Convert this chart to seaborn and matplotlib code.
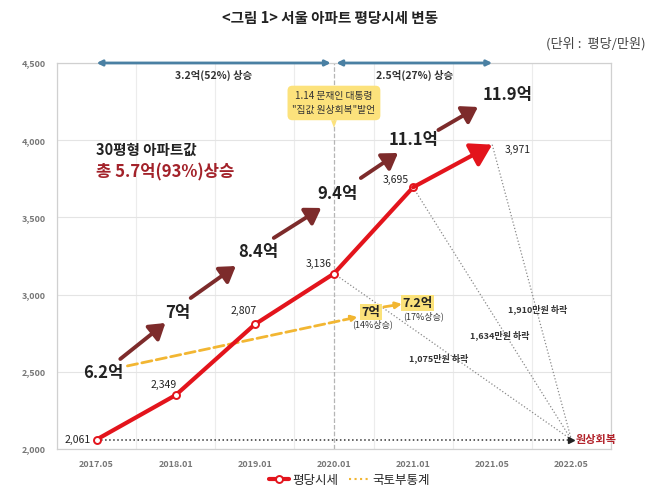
import numpy as np
import pandas as pd
import seaborn as sns
import matplotlib.pyplot as plt
from matplotlib.lines import Line2D
from matplotlib.ticker import FuncFormatter

# 서울 아파트 평당시세 (만원)
periods = ['2017.05', '2018.01', '2019.01', '2020.01', '2021.01', '2021.05', '2022.05']
price = [2061, 2349, 2807, 3136, 3695, 3971]
price_labels = ['2,061', '2,349', '2,807', '3,136', '3,695', '3,971']
label_offsets = [(-4, 0), (-9, 7), (-8, 10), (-11, 7), (-3, 5), (9, -4)]
label_ha = ['right', 'center', 'center', 'center', 'right', 'left']

# 30평형 아파트값 (억) and where the annotations sit
apt_labels = ['6.2억', '7억', '8.4억', '9.4억', '11.1억', '11.9억']
apt_label_x = [0.08, 1.03, 2.05, 3.05, 4.01, 5.2]
apt_label_y = [2492, 2881, 3276, 3652, 4001, 4293]
arrow_start_x = [0.30, 1.19, 2.24, 3.34, 4.32]
arrow_start_y = [2583, 2978, 3367, 3755, 4066]
arrow_end_x = [0.87, 1.76, 2.84, 3.81, 4.82]
arrow_end_y = [2816, 3185, 3561, 3917, 4215]

# 국토부통계 line
molit_x = [0.39, 3.30]
molit_y = [2538, 2855]

# drop to 원상회복 from these periods
drop_idx = [3, 4, 5]
drop_labels = ['1,075만원 하락', '1,634만원 하락', '1,910만원 하락']
drop_label_x = [4.32, 5.09, 5.58]
drop_label_y = [2589, 2738, 2907]

red = '#e3141c'
maroon = '#7d2b2b'
gold = '#f2b632'
blue = '#4a80a3'

sns.set_theme(style='white')
plt.rcParams['font.family'] = ['Noto Sans CJK KR', 'DejaVu Sans']

fig = plt.figure(figsize=(6.59, 4.92), dpi=100)
ax = fig.add_axes([0.0865, 0.0874, 0.8405, 0.7846])

# 평당시세 line
df = pd.DataFrame({'pos': range(len(price)), 'price': price})
sns.lineplot(data=df.iloc[:5], x='pos', y='price', color=red, lw=3, marker='o', ms=5,
             mfc='white', mec=red, mew=1.4, ax=ax, zorder=5)
ax.annotate('', xy=(5, price[5]), xytext=(4, price[4]),
            arrowprops=dict(arrowstyle='-|>,head_length=0.9,head_width=0.55', color=red,
                            lw=3, mutation_scale=14, shrinkA=0, shrinkB=0), zorder=5)
for i, t in enumerate(price_labels):
    ax.annotate(t, (i, price[i]), xytext=label_offsets[i], textcoords='offset points',
                ha=label_ha[i], va='center', fontsize=7.5, color='#222222')

ax.set_xlim(-0.5, 6.5)
ax.set_ylim(2000, 4500)
ax.set_yticks(np.arange(2000, 4501, 500))
ax.yaxis.set_major_formatter(FuncFormatter(lambda v, p: f'{v:,.0f}'))
ax.set_xticks(range(len(periods)))
ax.set_xticklabels(periods)
ax.set_xticks(np.arange(-0.5, 6.6, 0.5), minor=True)
ax.tick_params(axis='both', which='both', labelsize=6.5, colors='#777777', length=0, pad=8)
for lab in ax.get_xticklabels() + ax.get_yticklabels():
    lab.set_fontweight('bold')
ax.grid(axis='y', color='#e4e4e4', lw=0.8)
ax.grid(axis='x', which='minor', color='#ececec', lw=0.8)
ax.grid(axis='x', which='major', visible=False)
for s in ax.spines.values():
    s.set_color('#d0d0d0')
    s.set_linewidth(0.9)
ax.set_xlabel('')
ax.set_ylabel('')

# 2020.01 divider
ax.axvline(3, color='#b5b5b5', ls='--', lw=0.9, zorder=1)

# dotted lines back to 원상회복
ax.plot([0, 6], [price[0], price[0]], ls=':', color='#333333', lw=1.1, zorder=2)
ax.plot([6], [price[0]], marker='>', color='#222222', ms=4, zorder=3)
for i in drop_idx:
    ax.plot([i, 6], [price[i], price[0]], ls=':', color='#8a8a8a', lw=0.9, zorder=2)
for t, x, y in zip(drop_labels, drop_label_x, drop_label_y):
    ax.text(x, y, t, fontsize=6.5, fontweight='bold', color='#333333', ha='center', va='center')
ax.text(6.05, price[0], '원상회복', fontsize=8, fontweight='bold', color='#b2222a', ha='left', va='center')

# 국토부통계 dashed line
ax.annotate('', xy=(molit_x[1], molit_y[1]), xytext=(molit_x[0], molit_y[0]),
            arrowprops=dict(arrowstyle='-|>', color=gold, lw=2, ls='--', mutation_scale=9,
                            shrinkA=0, shrinkB=0), zorder=4)
ax.annotate('', xy=(3.86, 2939), xytext=(3.63, 2920),
            arrowprops=dict(arrowstyle='-|>', color=gold, lw=2, mutation_scale=9,
                            shrinkA=0, shrinkB=0), zorder=4)
hl = dict(boxstyle='square,pad=0.1', fc='#fbe27a', ec='none')
ax.text(3.47, 2887, '7억', fontsize=9, fontweight='bold', color='#222222', ha='center', va='center', bbox=hl)
ax.text(3.49, 2810, '(14%상승)', fontsize=6.5, color='#333333', ha='center', va='center')
ax.text(4.06, 2945, '7.2억', fontsize=9, fontweight='bold', color='#222222', ha='center', va='center', bbox=hl)
ax.text(4.13, 2861, '(17%상승)', fontsize=6.5, color='#333333', ha='center', va='center')

# 30평형 아파트값 arrows
for x0, y0, x1, y1 in zip(arrow_start_x, arrow_start_y, arrow_end_x, arrow_end_y):
    ax.annotate('', xy=(x1, y1), xytext=(x0, y0),
                arrowprops=dict(arrowstyle='-|>,head_length=0.65,head_width=0.42', color=maroon,
                                lw=2.8, mutation_scale=14, shrinkA=0, shrinkB=0))
for t, x, y in zip(apt_labels, apt_label_x, apt_label_y):
    ax.text(x, y, t, fontsize=12, fontweight='bold', color='#222222', ha='center', va='center')

ax.text(-0.01, 3937, '30평형 아파트값', fontsize=10.5, fontweight='bold', color='#222222', ha='left', va='center')
ax.text(-0.01, 3794, '총 5.7억(93%)상승', fontsize=12, fontweight='bold', color='#a3222a', ha='left', va='center')

# top period arrows
for x0, x1, t in [(0, 2.96, '3.2억(52%) 상승'), (3.03, 5.0, '2.5억(27%) 상승')]:
    ax.annotate('', xy=(x1, 4500), xytext=(x0, 4500),
                arrowprops=dict(arrowstyle='<|-|>', color=blue, lw=2, mutation_scale=8,
                                shrinkA=0, shrinkB=0), annotation_clip=False)
    ax.text((x0 + x1) / 2, 4422, t, fontsize=7.5, fontweight='bold', color='#333333', ha='center', va='center')

# callout
ax.annotate('1.14 문재인 대통령\n"집값 원상회복"발언', xy=(3, 4080), xytext=(3, 4241),
            fontsize=7, color='#333333', ha='center', va='center', linespacing=1.6,
            bbox=dict(boxstyle='round,pad=0.5', fc='#fce27c', ec='none'),
            arrowprops=dict(arrowstyle='wedge,tail_width=0.6', fc='#fce27c', ec='none', shrinkA=0, shrinkB=0))

fig.text(0.5, 0.963, '<그림 1> 서울 아파트 평당시세 변동', fontsize=10.5, fontweight='bold',
         color='#222222', ha='center', va='center')
fig.text(0.98, 0.91, '(단위 :  평당/만원)', fontsize=9.5, color='#444444', ha='right', va='center')

handles = [Line2D([0], [0], color=red, lw=3, marker='o', ms=5, mfc='white', mec=red, mew=1.4),
           Line2D([0], [0], color=gold, lw=1.5, ls=':')]
fig.legend(handles, ['평당시세', '국토부통계'], loc='lower center', bbox_to_anchor=(0.53, -0.012),
           ncol=2, frameon=False, fontsize=9, handlelength=1.6, columnspacing=0.8, handletextpad=0.3)

fig.savefig('out.png', dpi=100)
